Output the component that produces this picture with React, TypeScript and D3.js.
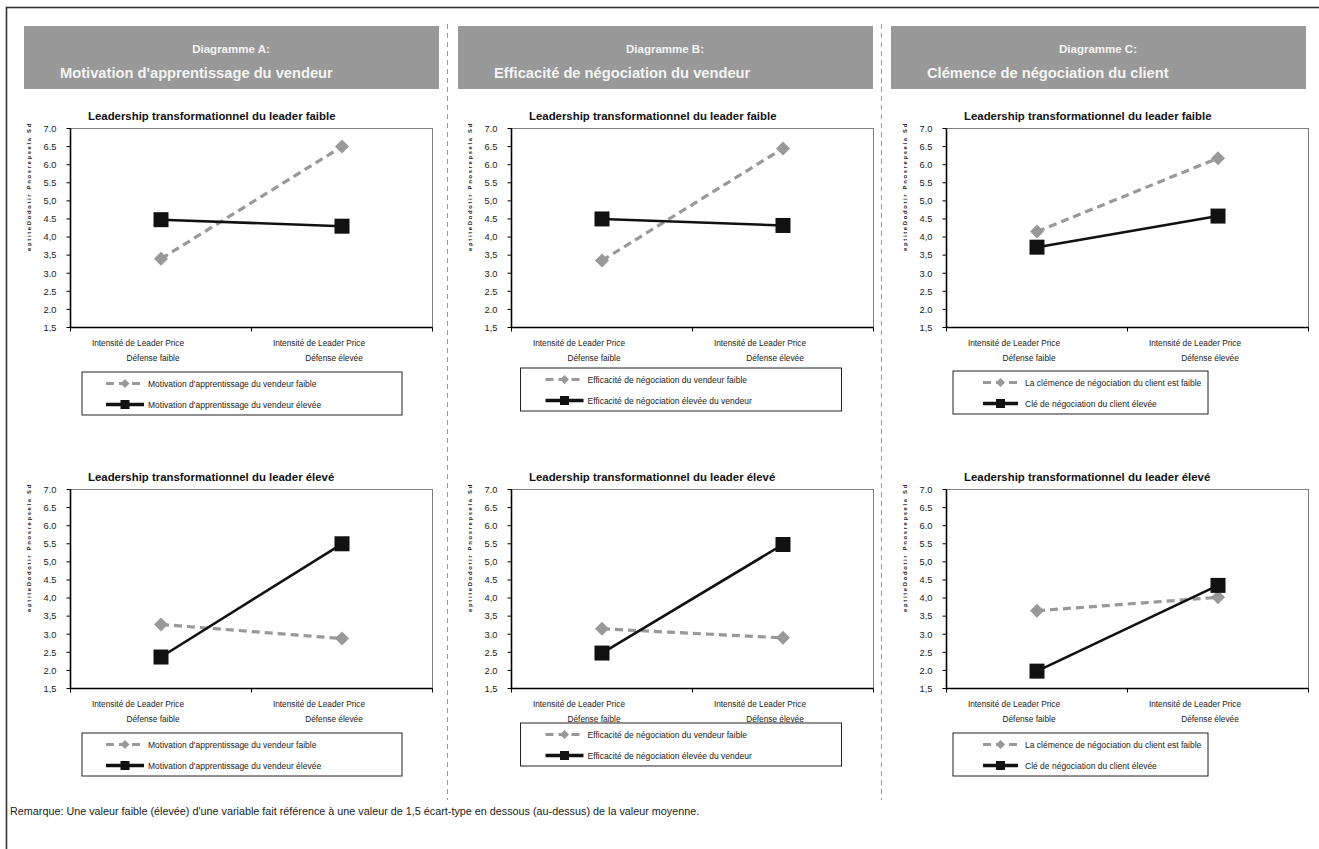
import React from "react";
import * as d3 from "d3";

// ---------- data ----------
const categories = ["Défense faible", "Défense élevée"];
const categoryPrefix = "Intensité de Leader Price";
const yTickValues = [1.5, 2, 2.5, 3, 3.5, 4, 4.5, 5, 5.5, 6, 6.5, 7];
const yTickLabels = ["1,5", "2.0", "2.5", "3.0", "3,5", "4,0", "4.5", "5,0", "5.5", "6.0", "6.5", "7.0"];
const yAxisLabel = "eptiteDodotir Pnosrepsela Sd";

const panelLetters = ["Diagramme A:", "Diagramme B:", "Diagramme C:"];
const panelSubtitles = [
  "Motivation d'apprentissage du vendeur",
  "Efficacité de négociation du vendeur",
  "Clémence de négociation du client",
];
const chartTitles = [
  "Leadership transformationnel du leader faible",
  "Leadership transformationnel du leader élevé",
];
const lowSeriesNames = [
  "Motivation d'apprentissage du vendeur faible",
  "Efficacité de négociation du vendeur faible",
  "La clémence de négociation du client est faible",
];
const highSeriesNames = [
  "Motivation d'apprentissage du vendeur élevée",
  "Efficacité de négociation élevée du vendeur",
  "Clé de négociation du client élevée",
];

// [chart(top,bottom)] values at the two categories
const lowValuesA = [[3.4, 6.5], [3.27, 2.88]];
const highValuesA = [[4.48, 4.3], [2.37, 5.5]];
const lowValuesB = [[3.35, 6.45], [3.15, 2.9]];
const highValuesB = [[4.5, 4.32], [2.48, 5.48]];
const lowValuesC = [[4.15, 6.18], [3.65, 4.02]];
const highValuesC = [[3.72, 4.58], [1.98, 4.35]];

const note =
  "Remarque: Une valeur faible (élevée) d'une variable fait référence à une valeur de 1,5 écart-type en dessous (au-dessus) de la valeur moyenne.";

// ---------- layout ----------
const FONT = "Arial, 'Liberation Sans', Helvetica, sans-serif";
const panelOffsets = [0, 441, 876];
const headerX = [24, 458, 891];
const legendLayouts = [
  { x: 82, w: 320, dyTop: 44, dyBot: 44, sx: 24, sw: 38, tx: 66 },
  { x: 520.5, w: 321, dyTop: 40, dyBot: 34, sx: 25, sw: 38, tx: 67 },
  { x: 953, w: 255, dyTop: 43, dyBot: 44, sx: 30, sw: 35, tx: 72 },
];
const lowVals = [lowValuesA, lowValuesB, lowValuesC];
const highVals = [highValuesA, highValuesB, highValuesC];

const plotLeft = 70.5;
const plotRight = 432.5;
const plotTops = [128.5, 489.5];
const plotH = 199;

function diamondPath(cx: number, cy: number, r: number) {
  return `M${cx},${cy - r}L${cx + r},${cy}L${cx},${cy + r}L${cx - r},${cy}Z`;
}

function Chart({ p, c }: { p: number; c: number }) {
  const ox = panelOffsets[p];
  const top = plotTops[c];
  const bottom = top + plotH;
  const x = d3.scaleBand<string>().domain(categories).range([ox + plotLeft, ox + plotRight]).padding(0);
  const y = d3.scaleLinear().domain([1.5, 7]).range([bottom, top]);
  const cx = (cat: string) => (x(cat) as number) + x.bandwidth() / 2;
  const low = lowVals[p][c];
  const high = highVals[p][c];
  const line = d3
    .line<number>()
    .x((_, i) => cx(categories[i]))
    .y((d) => y(d));
  const L = legendLayouts[p];
  const legTop = bottom + (c === 0 ? L.dyTop : L.dyBot);
  const boundaries = [ox + plotLeft, ...categories.map((cat) => (x(cat) as number) + x.bandwidth())];
  return (
    <g>
      <text x={ox + 88} y={top - 9} fontFamily={FONT} fontWeight="bold" fontSize={11.4} fill="#111">
        {chartTitles[c]}
      </text>
      <text
        transform={`translate(${ox + 31},${top + 58}) rotate(-90)`}
        textAnchor="middle"
        fontFamily={FONT}
        fontWeight="bold"
        fontSize={5.8}
        letterSpacing={1.7}
        fill="#222"
      >
        {yAxisLabel}
      </text>
      <rect x={ox + plotLeft} y={top} width={plotRight - plotLeft} height={plotH} fill="#fff" stroke="#808080" strokeWidth={1} />
      <line x1={ox + plotLeft} x2={ox + plotLeft} y1={top} y2={bottom} stroke="#000" strokeWidth={1.6} />
      <line x1={ox + plotLeft} x2={ox + plotRight} y1={bottom} y2={bottom} stroke="#000" strokeWidth={1.4} />
      {yTickValues.map((v, i) => (
        <g key={v}>
          <line x1={ox + plotLeft - 4} x2={ox + plotLeft} y1={y(v)} y2={y(v)} stroke="#000" strokeWidth={1} />
          <text x={ox + plotLeft - 14} y={y(v) + 3.3} textAnchor="end" fontFamily={FONT} fontSize={9.3} fill="#222">
            {yTickLabels[i]}
          </text>
        </g>
      ))}
      {boundaries.map((bx, i) => (
        <line key={i} x1={bx} x2={bx} y1={bottom} y2={bottom + 4} stroke="#000" strokeWidth={1} />
      ))}
      {categories.map((cat) => (
        <g key={cat}>
          <text x={cx(cat) - 23} y={bottom + 18} textAnchor="middle" fontFamily={FONT} fontSize={8.3} fill="#222">
            {categoryPrefix}
          </text>
          <text x={cx(cat) - 8} y={bottom + 33} textAnchor="middle" fontFamily={FONT} fontSize={8.3} fill="#222">
            {cat}
          </text>
        </g>
      ))}
      <path d={line(low) as string} fill="none" stroke="#999" strokeWidth={3.2} strokeDasharray="8,5" />
      <path d={line(high) as string} fill="none" stroke="#111" strokeWidth={2.6} />
      {low.map((v, i) => (
        <path key={"d" + i} d={diamondPath(cx(categories[i]), y(v), 7)} fill="#999" />
      ))}
      {high.map((v, i) => (
        <rect key={"s" + i} x={cx(categories[i]) - 7.5} y={y(v) - 7.5} width={15} height={15} fill="#111" />
      ))}
      {/* legend */}
      <rect x={L.x} y={legTop + 0.5} width={L.w} height={43} fill="#fff" stroke="#222" strokeWidth={1} />
      <line
        x1={L.x + L.sx}
        x2={L.x + L.sx + L.sw}
        y1={legTop + 12}
        y2={legTop + 12}
        stroke="#999"
        strokeWidth={3}
        strokeDasharray="8,5"
      />
      <path d={diamondPath(L.x + L.sx + L.sw / 2, legTop + 12, 4.5)} fill="#999" />
      <text x={L.x + L.tx} y={legTop + 15} fontFamily={FONT} fontSize={8.5} fill="#222">
        {lowSeriesNames[p]}
      </text>
      <line x1={L.x + L.sx} x2={L.x + L.sx + L.sw} y1={legTop + 33} y2={legTop + 33} stroke="#111" strokeWidth={3.4} />
      <rect x={L.x + L.sx + L.sw / 2 - 4.5} y={legTop + 28.5} width={9} height={9} fill="#111" />
      <text x={L.x + L.tx} y={legTop + 36} fontFamily={FONT} fontSize={8.5} fill="#222">
        {highSeriesNames[p]}
      </text>
    </g>
  );
}

export default function App() {
  const W = 1319;
  const H = 849;
  return (
    <svg width={W} height={H} style={{ position: "absolute", left: 0, top: 0 }}>
      <rect x={0} y={0} width={W} height={H} fill="#fff" />
      <rect x={6.5} y={7.5} width={1330} height={900} fill="none" stroke="#333" strokeWidth={1.6} />
      {[447.5, 881.5].map((sx) => (
        <line key={sx} x1={sx} x2={sx} y1={24} y2={800} stroke="#999" strokeWidth={1} strokeDasharray="5,4" />
      ))}
      {panelLetters.map((lt, p) => (
        <g key={lt}>
          <rect x={headerX[p]} y={26} width={415} height={63} fill="#999999" />
          <text x={headerX[p] + 207} y={53} textAnchor="middle" fontFamily={FONT} fontWeight="bold" fontSize={11.5} fill="#f4f4f4">
            {lt}
          </text>
          <text x={headerX[p] + 36} y={78} fontFamily={FONT} fontWeight="bold" fontSize={14.7} fill="#f4f4f4">
            {panelSubtitles[p]}
          </text>
        </g>
      ))}
      {[0, 1, 2].map((p) => [0, 1].map((c) => <Chart key={`${p}-${c}`} p={p} c={c} />))}
      <text x={10} y={815} fontFamily={FONT} fontSize={10.8} fill="#222">
        {note}
      </text>
    </svg>
  );
}
